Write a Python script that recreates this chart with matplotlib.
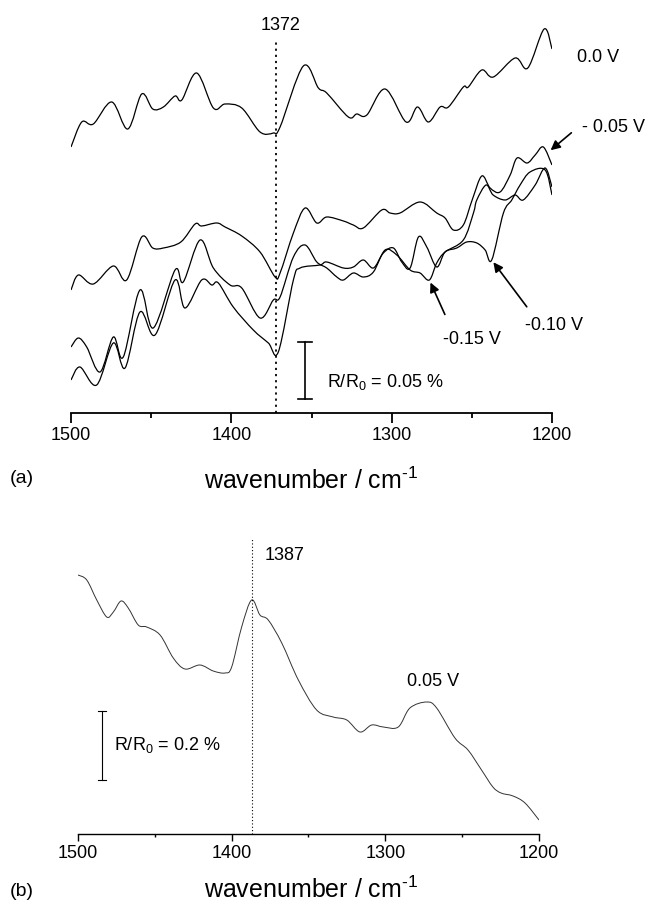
import matplotlib
matplotlib.use("Agg")
import matplotlib.pyplot as plt
import numpy as np
from matplotlib.path import Path
from matplotlib.patches import PathPatch

plt.rcParams['font.family'] = ['Liberation Sans', 'DejaVu Sans']
plt.rcParams['mathtext.fontset'] = 'custom'
plt.rcParams['mathtext.rm'] = 'Liberation Sans'
plt.rcParams['mathtext.it'] = 'Liberation Sans'

# ---- panel (a): spectra at several potentials (arbitrary intensity units) ----
wn_0V = [1500, 1493.3, 1486.1, 1474.6, 1464.6, 1455.9, 1449.0, 1442.4, 1435.1, 1430.9,
         1421.6, 1411.2, 1403.9, 1393.5, 1382.1, 1373.8, 1369.6, 1355.1, 1345.7, 1340.5,
         1327.0, 1321.8, 1315.5, 1304.1, 1291.0, 1283.9, 1277.1, 1269.8, 1264.6, 1255.3,
         1252.2, 1243.8, 1236.6, 1223.0, 1215.1, 1204.9, 1200]
sig_0V = [266, 291, 289, 311, 284, 319, 304, 306, 317, 313,
          340, 305, 309, 305, 281, 280, 286, 347, 325, 320,
          296, 299, 298, 324, 291, 306, 291, 306, 306, 326,
          326, 343, 336, 355, 345, 384, 364]

wn_m005 = [1500, 1495.4, 1486.1, 1473.6, 1465.3, 1455.9, 1449.0, 1442.4, 1431.5, 1422.6,
           1418.5, 1409.1, 1403.9, 1393.5, 1382.1, 1372.7, 1369.6, 1361.3, 1354.0, 1346.7,
           1340.5, 1330.1, 1323.9, 1317.7, 1306.2, 1301.0, 1294.8, 1282.3, 1271.9, 1266.7,
           1261.5, 1255.3, 1249.8, 1243.8, 1238.6, 1232.4, 1226.1, 1221.8, 1215.5, 1210.5,
           1205.4, 1200]
sig_m005 = [123, 138, 129, 147, 133, 176, 165, 165, 171, 189,
            187, 190, 186, 177, 161, 136, 140, 180, 205, 190,
            196, 192, 188, 185, 203, 200, 200, 211, 200, 195,
            183, 188, 213, 237, 225, 221, 238, 255, 250, 258,
            266, 248]

wn_m010 = [1500, 1494.4, 1484.0, 1473.6, 1466.3, 1457.0, 1447.6, 1435.1, 1428.9, 1418.5,
           1412.2, 1408.1, 1398.8, 1386.3, 1376.9, 1370.7, 1361.3, 1357.1, 1344.7, 1340.5,
           1330.1, 1323.9, 1317.7, 1311.4, 1305.2, 1298.9, 1293.7, 1288.5, 1283.3, 1278.1,
           1271.9, 1266.7, 1259.4, 1253.2, 1246.9, 1241.7, 1237.6, 1230.3, 1225.1, 1219.9,
           1213.7, 1204.3, 1200]
sig_m010 = [33, 46, 28, 70, 45, 101, 78, 133, 105, 133,
            128, 130, 106, 83, 70, 61, 133, 145, 148, 151,
            145, 146, 153, 145, 160, 165, 151, 145, 176, 166,
            146, 161, 165, 171, 170, 163, 153, 200, 213, 228,
            241, 243, 218]

wn_m015 = [1500, 1495.4, 1490.2, 1481.9, 1473.6, 1467.4, 1457.0, 1448.7, 1435.1, 1430.0,
           1419.5, 1411.2, 1400.8, 1393.5, 1382.1, 1373.8, 1369.6, 1361.3, 1354.0, 1346.7,
           1340.5, 1334.2, 1330.1, 1323.9, 1317.7, 1311.4, 1304.1, 1296.8, 1288.5, 1282.3,
           1276.5, 1271.9, 1266.7, 1255.3, 1249.0, 1246.9, 1241.1, 1236.7, 1229.3, 1223.0,
           1218.0, 1210.5, 1204.3, 1200]
sig_m015 = [66, 75, 66, 41, 76, 56, 123, 85, 143, 131,
            173, 145, 128, 125, 95, 113, 116, 156, 168, 151,
            145, 136, 133, 140, 136, 141, 163, 158, 143, 140,
            133, 150, 161, 173, 200, 213, 228, 218, 213, 218,
            213, 228, 245, 226]

# ---- panel (b): spectrum at 0.05 V ----
wn_b = [1500, 1494.3, 1487.8, 1481.3, 1477.0, 1472.0, 1467.3, 1460.8, 1455.3, 1446.6,
        1438.0, 1430.4, 1420.6, 1412.0, 1404.3, 1400.0, 1393.5, 1387, 1381.6, 1376.2,
        1367.4, 1356.6, 1344.7, 1333.9, 1325.1, 1316.5, 1308.9, 1301.3, 1291.6, 1284.0,
        1273.1, 1266.6, 1254.7, 1246.2, 1237.4, 1230.0, 1224.7, 1216.9, 1209.1, 1200]
sig_b = [259, 254, 234, 217, 222, 233, 226, 209, 207, 199,
         176, 165, 169, 163, 161, 167, 207, 234, 219, 214,
         191, 154, 124, 117, 114, 102, 109, 107, 107, 126,
         132, 126, 96, 84, 64, 47, 41, 38, 31, 14]

ticks = [1500, 1400, 1300, 1200]
minor_ticks = [1450, 1350, 1250]

W, H = 648, 902
fig = plt.figure(figsize=(W / 100, H / 100), dpi=100)


def smooth_line(ax, x, y, color, lw):
    # smooth curve through the read points (Catmull-Rom drawn as Bezier path)
    pts = np.column_stack([x, y]).astype(float)
    n = len(pts)
    verts = [pts[0]]
    codes = [Path.MOVETO]
    for i in range(n - 1):
        p0 = pts[max(i - 1, 0)]
        p1 = pts[i]
        p2 = pts[i + 1]
        p3 = pts[min(i + 2, n - 1)]
        verts += [p1 + (p2 - p0) / 6, p2 - (p3 - p1) / 6, p2]
        codes += [Path.CURVE4] * 3
    ax.add_patch(PathPatch(Path(verts, codes), fill=False, edgecolor=color, lw=lw))


def setup(ax, lw, major_len, minor_len):
    ax.set_xlim(1500, 1200)
    for s in ['left', 'right', 'top']:
        ax.spines[s].set_visible(False)
    ax.spines['bottom'].set_linewidth(lw)
    ax.set_yticks([])
    ax.set_xticks(ticks)
    ax.set_xticks(minor_ticks, minor=True)
    ax.tick_params(axis='x', which='major', length=major_len, width=lw, labelsize=13, pad=3)
    ax.tick_params(axis='x', which='minor', length=minor_len, width=lw)
    ax.patch.set_visible(False)


xlab = r'wavenumber / cm$^{\text{-1}}$'

# panel (a)
ax1 = fig.add_axes([71 / W, 1 - 413 / H, 481 / W, 413 / H])
setup(ax1, 1.3, 7, 3.5)
ax1.set_ylim(0, 413)
for wn, sig in [(wn_0V, sig_0V), (wn_m005, sig_m005), (wn_m010, sig_m010), (wn_m015, sig_m015)]:
    smooth_line(ax1, wn, sig, 'black', 0.9)
ax1.plot([1372, 1372], [0, 371], color='black', lw=1.3, linestyle=(0, (1.2, 2.2)))
ax1.text(1369, 388, '1372', fontsize=13, ha='center', va='center')
ax1.text(1171, 356, '0.0 V', fontsize=13, ha='center', va='center')
ax1.text(1181, 286, '- 0.05 V', fontsize=13, ha='left', va='center', clip_on=False)
ax1.annotate('', xy=(1202.2, 261), xytext=(1186.6, 282),
             arrowprops=dict(arrowstyle='-|>', color='black', lw=1.2, mutation_scale=14),
             annotation_clip=False)
ax1.text(1250, 73, '-0.15 V', fontsize=13, ha='center', va='center')
ax1.annotate('', xy=(1276.5, 133), xytext=(1266.1, 96),
             arrowprops=dict(arrowstyle='-|>', color='black', lw=1.2, mutation_scale=14))
ax1.text(1199, 88, '-0.10 V', fontsize=13, ha='center', va='center', clip_on=False)
ax1.annotate('', xy=(1237.6, 153), xytext=(1214.7, 104),
             arrowprops=dict(arrowstyle='-|>', color='black', lw=1.2, mutation_scale=14))
# scale bar 0.05 %
ax1.plot([1354, 1354], [14, 71], color='black', lw=1.2)
ax1.plot([1358.4, 1349.6], [14, 14], color='black', lw=1.2)
ax1.plot([1358.4, 1349.6], [71, 71], color='black', lw=1.2)
ax1.text(1340.3, 31, r'R/R$_0$ = 0.05 %', fontsize=13, ha='left', va='center')

fig.text(311 / W, 1 - 481 / H, xlab, fontsize=18, ha='center', va='center')
fig.text(10 / W, 1 - 479 / H, '(a)', fontsize=14, ha='left', va='center')

# panel (b)
ax2 = fig.add_axes([78 / W, 1 - 834 / H, 461 / W, 294 / H])
setup(ax2, 1.0, 5, 2.5)
ax2.set_ylim(0, 294)
smooth_line(ax2, wn_b, sig_b, '#333333', 0.7)
ax2.plot([1387, 1387], [0, 296], color='black', lw=0.8, linestyle=(0, (1, 2)), clip_on=False)
ax2.text(1378.3, 278, '1387', fontsize=13, ha='left', va='center')
ax2.text(1269, 153, '0.05 V', fontsize=13, ha='center', va='center')
ax2.plot([1484.1, 1484.1], [54, 123], color='black', lw=0.8)
ax2.plot([1486.7, 1481.5], [54, 54], color='black', lw=0.8)
ax2.plot([1486.7, 1481.5], [123, 123], color='black', lw=0.8)
ax2.text(1476.6, 89, r'R/R$_0$ = 0.2 %', fontsize=13, ha='left', va='center')

fig.text(311 / W, 1 - 890 / H, xlab, fontsize=18, ha='center', va='center')
fig.text(10 / W, 1 - 891 / H, '(b)', fontsize=14, ha='left', va='center')

fig.savefig('out.png', dpi=100)
